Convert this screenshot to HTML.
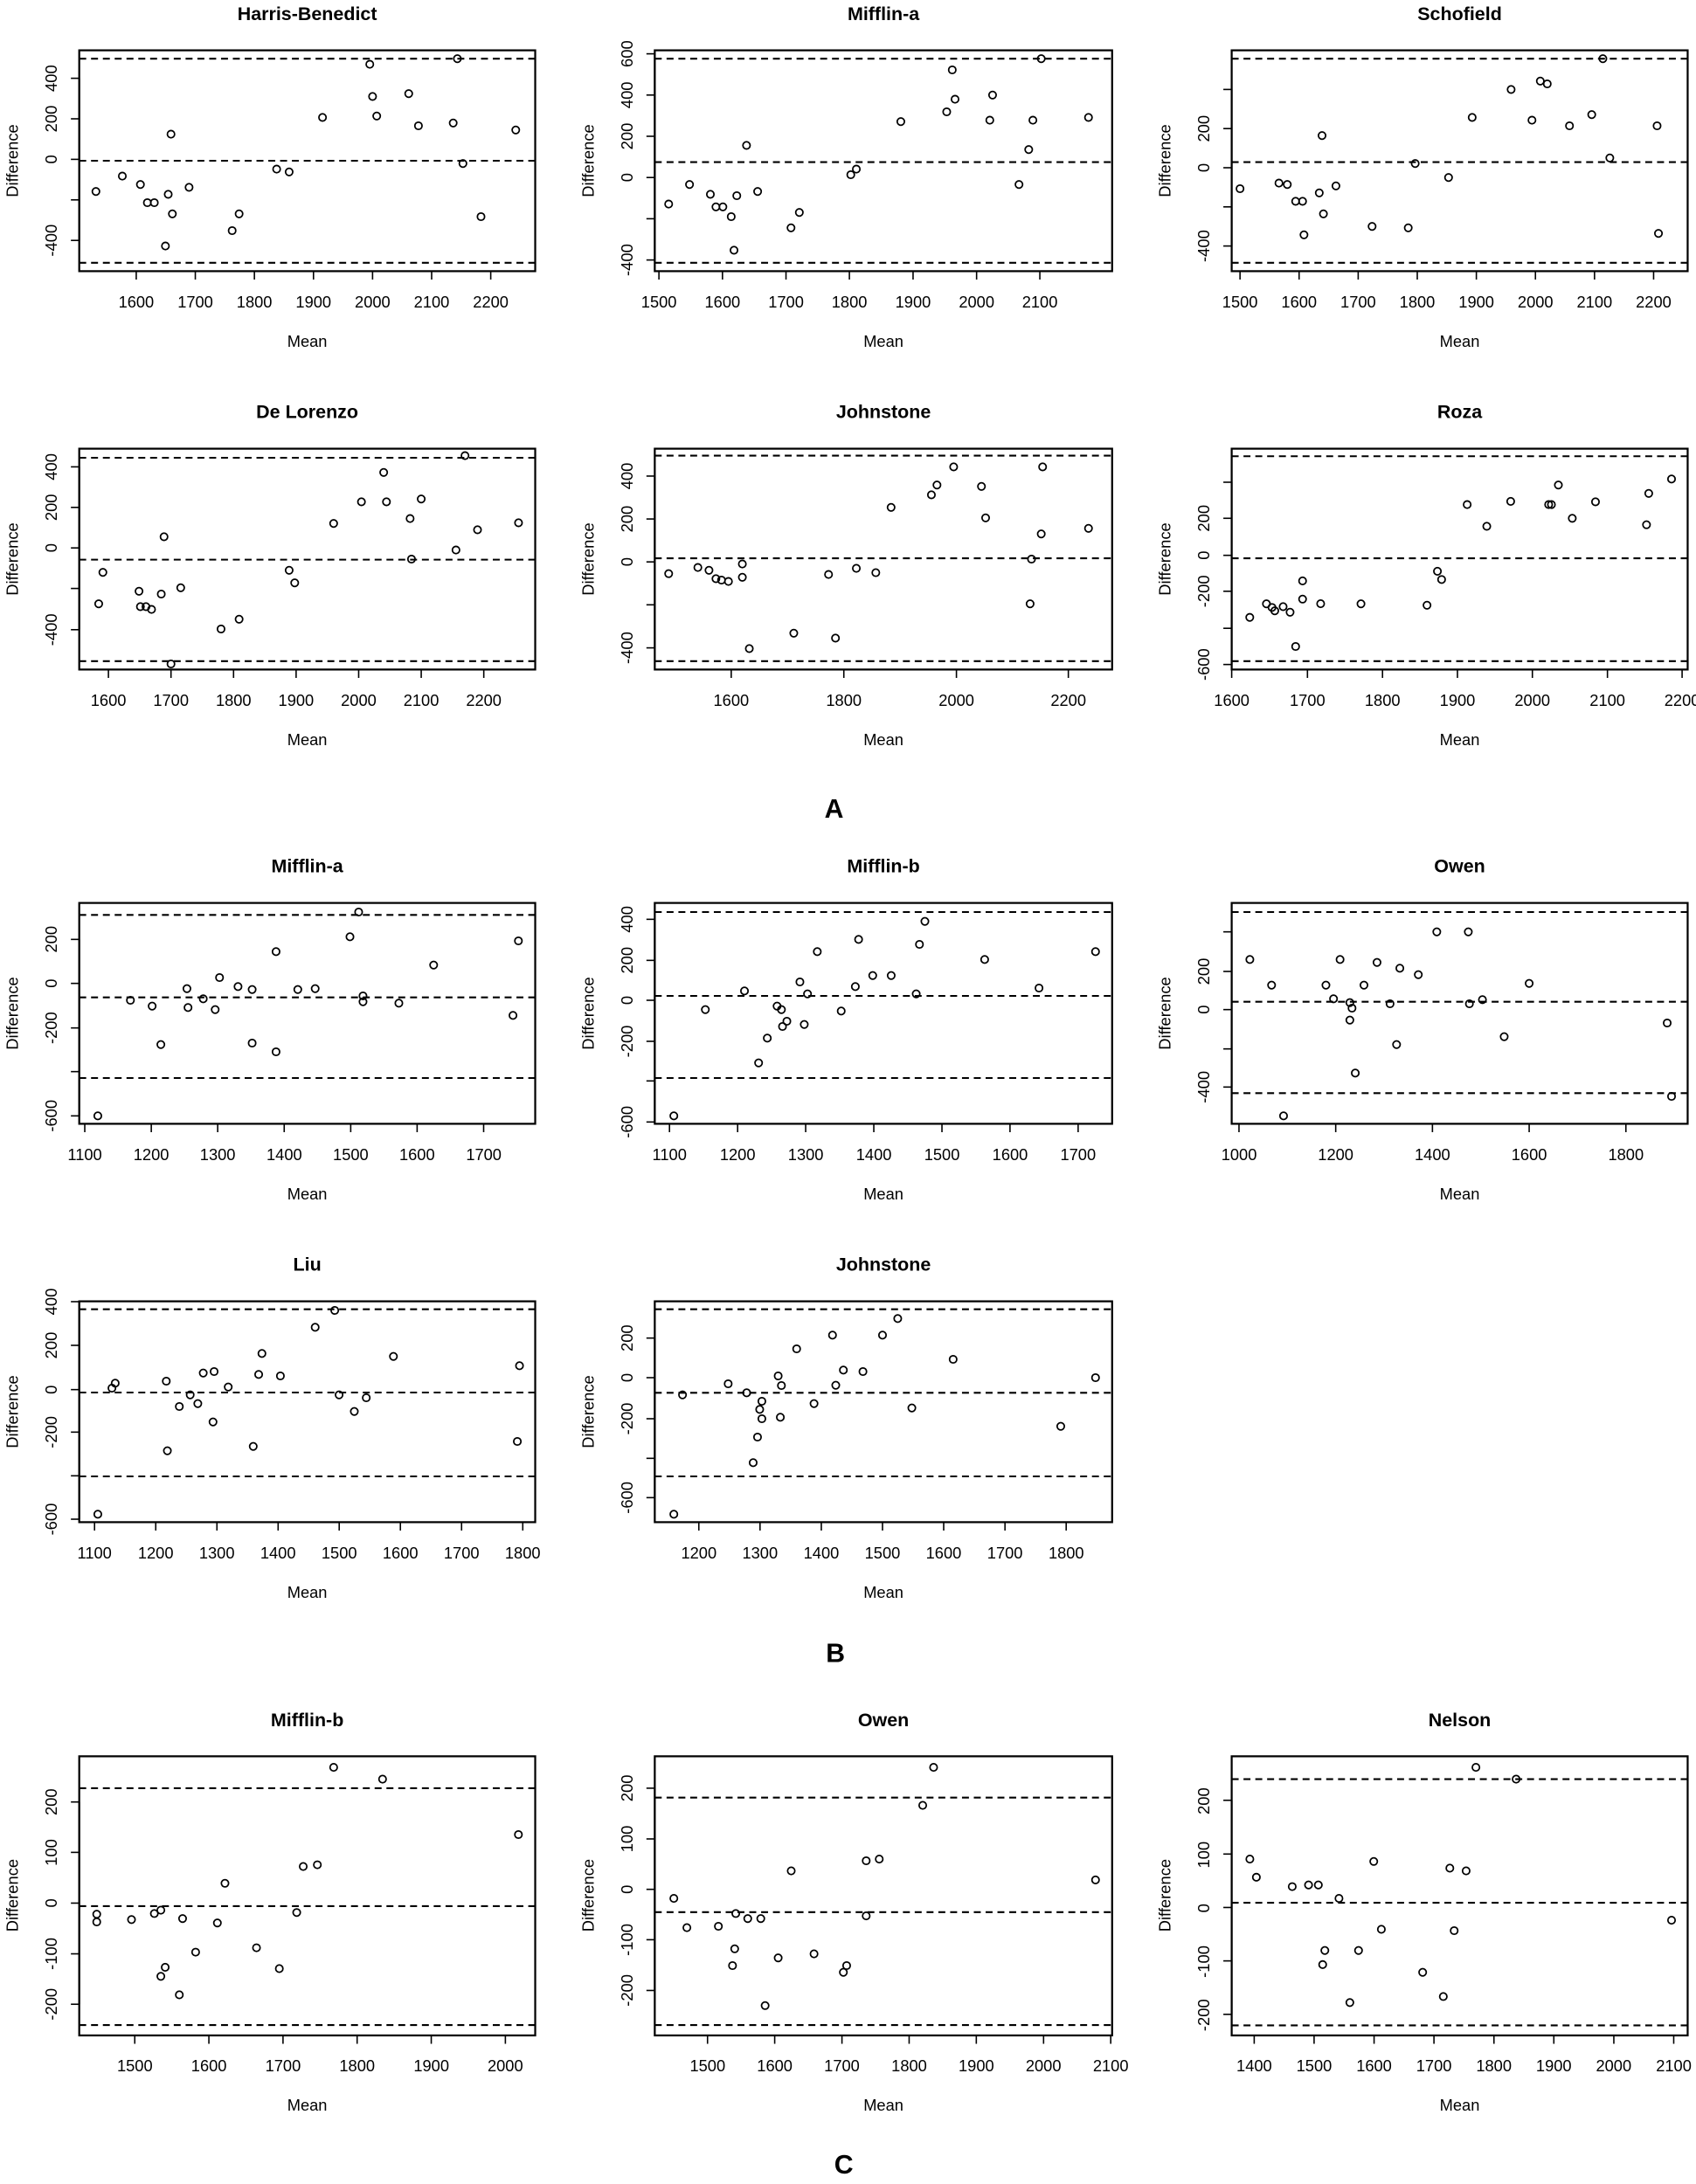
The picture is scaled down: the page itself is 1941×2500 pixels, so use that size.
<!DOCTYPE html>
<html><head><meta charset="utf-8"><style>
html,body{margin:0;padding:0;background:#fff}
svg{display:block}
text{font-family:"Liberation Sans",Arial,sans-serif;fill:#000}
.t{font-size:13.5px;font-weight:bold;text-anchor:middle}
.k{font-size:11.5px;text-anchor:middle}
.a{font-size:11.5px;text-anchor:middle}
.L{font-size:19px;font-weight:bold;text-anchor:middle}
</style></head><body>
<svg id="s" xmlns="http://www.w3.org/2000/svg" width="1941" height="2500" viewBox="0 0 1220 1562.5" preserveAspectRatio="none">
<g id="g"></g>
<!-- Row A1 -->
<text class="t" x="221" y="14.5">Harris-Benedict</text>
<text class="t" x="635.5" y="14.5">Mifflin-a</text>
<text class="t" x="1050" y="14.5">Schofield</text>
<text class="a" x="221" y="248">Mean</text><text class="a" x="635.5" y="248">Mean</text><text class="a" x="1050" y="248">Mean</text>
<text class="a" transform="translate(13,115) rotate(-90)">Difference</text>
<text class="a" transform="translate(427,115) rotate(-90)">Difference</text>
<text class="a" transform="translate(842,115) rotate(-90)">Difference</text>
<g class="k">
<text x="98" y="220">1600</text><text x="140.5" y="220">1700</text><text x="183" y="220">1800</text><text x="225.5" y="220">1900</text><text x="268" y="220">2000</text><text x="310.5" y="220">2100</text><text x="353" y="220">2200</text>
<text transform="translate(41,56) rotate(-90)">400</text><text transform="translate(41,85) rotate(-90)">200</text><text transform="translate(41,114) rotate(-90)">0</text><text transform="translate(41,172) rotate(-90)">-400</text>
<text x="474" y="220">1500</text><text x="519.7" y="220">1600</text><text x="565.4" y="220">1700</text><text x="611" y="220">1800</text><text x="656.8" y="220">1900</text><text x="702.5" y="220">2000</text><text x="748" y="220">2100</text>
<text transform="translate(455,38.5) rotate(-90)">600</text><text transform="translate(455,68) rotate(-90)">400</text><text transform="translate(455,97.5) rotate(-90)">200</text><text transform="translate(455,127) rotate(-90)">0</text><text transform="translate(455,186) rotate(-90)">-400</text>
<text x="892" y="220">1500</text><text x="934.5" y="220">1600</text><text x="977" y="220">1700</text><text x="1019.5" y="220">1800</text><text x="1062" y="220">1900</text><text x="1104.5" y="220">2000</text><text x="1147" y="220">2100</text><text x="1189.5" y="220">2200</text>
<text transform="translate(870,92) rotate(-90)">200</text><text transform="translate(870,120) rotate(-90)">0</text><text transform="translate(870,176) rotate(-90)">-400</text>
</g>
<!-- Row A2 -->
<text class="t" x="221" y="299">De Lorenzo</text>
<text class="t" x="635.5" y="299">Johnstone</text>
<text class="t" x="1050" y="299">Roza</text>
<text class="a" x="221" y="533">Mean</text><text class="a" x="635.5" y="533">Mean</text><text class="a" x="1050" y="533">Mean</text>
<text class="a" transform="translate(13,400) rotate(-90)">Difference</text>
<text class="a" transform="translate(427,400) rotate(-90)">Difference</text>
<text class="a" transform="translate(842,400) rotate(-90)">Difference</text>
<g class="k">
<text x="78" y="505">1600</text><text x="123" y="505">1700</text><text x="168" y="505">1800</text><text x="213" y="505">1900</text><text x="258" y="505">2000</text><text x="303" y="505">2100</text><text x="348" y="505">2200</text>
<text transform="translate(41,334) rotate(-90)">400</text><text transform="translate(41,363) rotate(-90)">200</text><text transform="translate(41,392) rotate(-90)">0</text><text transform="translate(41,450.5) rotate(-90)">-400</text>
<text x="526" y="505">1600</text><text x="607" y="505">1800</text><text x="688" y="505">2000</text><text x="768.5" y="505">2200</text>
<text transform="translate(455,340.6) rotate(-90)">400</text><text transform="translate(455,371.3) rotate(-90)">200</text><text transform="translate(455,402) rotate(-90)">0</text><text transform="translate(455,463.5) rotate(-90)">-400</text>
<text x="886" y="505">1600</text><text x="940.5" y="505">1700</text><text x="994.5" y="505">1800</text><text x="1048.4" y="505">1900</text><text x="1102.3" y="505">2000</text><text x="1156.3" y="505">2100</text><text x="1210" y="505">2200</text>
<text transform="translate(870,370.8) rotate(-90)">200</text><text transform="translate(870,397.3) rotate(-90)">0</text><text transform="translate(870,423) rotate(-90)">-200</text><text transform="translate(870,475.4) rotate(-90)">-600</text>
</g>
<text class="L" x="600" y="585">A</text>
<!-- Row B1 -->
<text class="t" x="221" y="624">Mifflin-a</text>
<text class="t" x="635.5" y="624">Mifflin-b</text>
<text class="t" x="1050" y="624">Owen</text>
<text class="a" x="221" y="858">Mean</text><text class="a" x="635.5" y="858">Mean</text><text class="a" x="1050" y="858">Mean</text>
<text class="a" transform="translate(13,725) rotate(-90)">Difference</text>
<text class="a" transform="translate(427,725) rotate(-90)">Difference</text>
<text class="a" transform="translate(842,725) rotate(-90)">Difference</text>
<g class="k">
<text x="61" y="830">1100</text><text x="108.8" y="830">1200</text><text x="156.6" y="830">1300</text><text x="204.5" y="830">1400</text><text x="252.3" y="830">1500</text><text x="300" y="830">1600</text><text x="348" y="830">1700</text>
<text transform="translate(41,672) rotate(-90)">200</text><text transform="translate(41,703.5) rotate(-90)">0</text><text transform="translate(41,735.4) rotate(-90)">-200</text><text transform="translate(41,798.3) rotate(-90)">-600</text>
<text x="481.6" y="830">1100</text><text x="530.6" y="830">1200</text><text x="579.6" y="830">1300</text><text x="628.6" y="830">1400</text><text x="677.6" y="830">1500</text><text x="726.6" y="830">1600</text><text x="775.5" y="830">1700</text>
<text transform="translate(455,657.7) rotate(-90)">400</text><text transform="translate(455,687) rotate(-90)">200</text><text transform="translate(455,715.6) rotate(-90)">0</text><text transform="translate(455,745) rotate(-90)">-200</text><text transform="translate(455,802.7) rotate(-90)">-600</text>
<text x="891.3" y="830">1000</text><text x="960.8" y="830">1200</text><text x="1030.4" y="830">1400</text><text x="1100" y="830">1600</text><text x="1169.6" y="830">1800</text>
<text transform="translate(870,695) rotate(-90)">200</text><text transform="translate(870,722.3) rotate(-90)">0</text><text transform="translate(870,777.7) rotate(-90)">-400</text>
</g>
<!-- Row B2 -->
<text class="t" x="221" y="909">Liu</text>
<text class="t" x="635.5" y="909">Johnstone</text>
<text class="a" x="221" y="1143">Mean</text><text class="a" x="635.5" y="1143">Mean</text>
<text class="a" transform="translate(13,1010) rotate(-90)">Difference</text>
<text class="a" transform="translate(427,1010) rotate(-90)">Difference</text>
<g class="k">
<text x="68" y="1115">1100</text><text x="112" y="1115">1200</text><text x="156" y="1115">1300</text><text x="200" y="1115">1400</text><text x="244" y="1115">1500</text><text x="288" y="1115">1600</text><text x="332" y="1115">1700</text><text x="376" y="1115">1800</text>
<text transform="translate(41,931.25) rotate(-90)">400</text><text transform="translate(41,962.5) rotate(-90)">200</text><text transform="translate(41,994.2) rotate(-90)">0</text><text transform="translate(41,1024.6) rotate(-90)">-200</text><text transform="translate(41,1086.9) rotate(-90)">-600</text>
<text x="502.7" y="1115">1200</text><text x="546.7" y="1115">1300</text><text x="590.8" y="1115">1400</text><text x="634.8" y="1115">1500</text><text x="678.8" y="1115">1600</text><text x="722.9" y="1115">1700</text><text x="767" y="1115">1800</text>
<text transform="translate(455,957.3) rotate(-90)">200</text><text transform="translate(455,985.6) rotate(-90)">0</text><text transform="translate(455,1015) rotate(-90)">-200</text><text transform="translate(455,1071.5) rotate(-90)">-600</text>
</g>
<text class="L" x="601" y="1189">B</text>
<!-- Row C -->
<text class="t" x="221" y="1235">Mifflin-b</text>
<text class="t" x="635.5" y="1235">Owen</text>
<text class="t" x="1050" y="1235">Nelson</text>
<text class="a" x="221" y="1510">Mean</text><text class="a" x="635.5" y="1510">Mean</text><text class="a" x="1050" y="1510">Mean</text>
<text class="a" transform="translate(13,1356) rotate(-90)">Difference</text>
<text class="a" transform="translate(427,1356) rotate(-90)">Difference</text>
<text class="a" transform="translate(842,1356) rotate(-90)">Difference</text>
<g class="k">
<text x="97" y="1482">1500</text><text x="150.3" y="1482">1600</text><text x="203.6" y="1482">1700</text><text x="256.9" y="1482">1800</text><text x="310.3" y="1482">1900</text><text x="363.5" y="1482">2000</text>
<text transform="translate(41,1289.2) rotate(-90)">200</text><text transform="translate(41,1325.3) rotate(-90)">100</text><text transform="translate(41,1361.5) rotate(-90)">0</text><text transform="translate(41,1397.8) rotate(-90)">-100</text><text transform="translate(41,1433.9) rotate(-90)">-200</text>
<text x="509" y="1482">1500</text><text x="557.3" y="1482">1600</text><text x="605.6" y="1482">1700</text><text x="654" y="1482">1800</text><text x="702.3" y="1482">1900</text><text x="750.6" y="1482">2000</text><text x="799" y="1482">2100</text>
<text transform="translate(455,1279.3) rotate(-90)">200</text><text transform="translate(455,1315.6) rotate(-90)">100</text><text transform="translate(455,1351.7) rotate(-90)">0</text><text transform="translate(455,1387.8) rotate(-90)">-100</text><text transform="translate(455,1424) rotate(-90)">-200</text>
<text x="902.2" y="1482">1400</text><text x="945.3" y="1482">1500</text><text x="988.4" y="1482">1600</text><text x="1031.5" y="1482">1700</text><text x="1074.6" y="1482">1800</text><text x="1117.7" y="1482">1900</text><text x="1160.8" y="1482">2000</text><text x="1204" y="1482">2100</text>
<text transform="translate(870,1288.5) rotate(-90)">200</text><text transform="translate(870,1327) rotate(-90)">100</text><text transform="translate(870,1365.2) rotate(-90)">0</text><text transform="translate(870,1403.4) rotate(-90)">-100</text><text transform="translate(870,1441.7) rotate(-90)">-200</text>
</g>
<text class="L" x="607" y="1555">C</text>
</svg>
<script>
var NS="http://www.w3.org/2000/svg",G=document.getElementById("g");
function el(n,a){var e=document.createElementNS(NS,n);for(var k in a)e.setAttribute(k,a[k]);G.appendChild(e);return e;}
function ln(x1,y1,x2,y2,w,d){var a={x1:x1,y1:y1,x2:x2,y2:y2,stroke:"#000","stroke-width":w||1};if(d)a["stroke-dasharray"]=d;el("line",a);}
var I=function(v){return v;};
function zx(x){return x*0.7818;}
function P(l,t,r,b,xt,yt,hl,pts,fx,fy){
  fx=fx||I;fy=fy||I;
  el("rect",{x:l,y:t,width:r-l,height:b-t,fill:"none",stroke:"#000","stroke-width":1.4});
  xt=xt.map(fx);yt=yt.map(fy);
  ln(xt[0],b,xt[xt.length-1],b,1.2);
  xt.forEach(function(x){ln(x,b,x,b+6,1);});
  ln(l,yt[0],l,yt[yt.length-1],1.2);
  yt.forEach(function(y){ln(l-6,y,l,y,1);});
  hl.forEach(function(y){ln(l,fy(y),r,fy(y),1.3,"5,3.5");});
  pts.forEach(function(p){el("circle",{cx:fx(p[0]),cy:fy(p[1]),r:2.6,fill:"none",stroke:"#000","stroke-width":1.1});});
}
// Row A1 (display coords)
P(57,36,385,194,[98,140.5,183,225.5,268,310.5,353],[56,85,114,143,172],[42,115,188],
[[69,137],[88,126],[101,132],[106,145],[111,145],[121,139],[123,96],[124,153],[119,176],[136,134],[167,165],[172,153],[199,121],[208,123],[232,84],[266,46],[268,69],[271,83],[294,67],[301,90],[326,88],[329,42],[333,117],[346,155],[371,93]]);
P(471,36,800,194,[474,519.7,565.4,611,656.8,702.5,748],[38.5,68,97.5,127,156.5,186],[42,116,188],
[[481,146],[496,132],[511,139],[515,148],[520,148],[526,155],[528,179],[530,140],[537,104],[545,137],[569,163],[575,152],[612,125],[616,121],[648,87],[681,80],[685,50],[687,71],[712,86],[714,68],[733,132],[740,107],[743,86],[749,42],[783,84]]);
P(886,36,1214,194,[892,934.5,977,1019.5,1062,1104.5,1147,1189.5],[64,92,120,148,176],[42,116,188],
[[892,135],[920,131],[926,132],[932,144],[937,144],[938,168],[949,138],[951,97],[952,153],[961,133],[987,162],[1013,163],[1018,117],[1042,127],[1059,84],[1087,64],[1102,86],[1108,58],[1113,60],[1129,90],[1145,82],[1153,42],[1158,113],[1192,90],[1193,167]]);
// Row A2
P(57,321,385,479,[78,123,168,213,258,303,348],[334,363,392,421,450.5],[327.5,400.4,473],
[[71,432],[74,409.5],[100,423],[101,434],[105,434],[109,436],[116,425],[118,384],[123,475],[130,420.5],[159,450],[172,443],[208,408],[212,417],[240,374.5],[260,359],[276,338],[278,359],[295,371],[296,400],[303,357],[328,393.5],[334.5,326],[343.5,379],[373,374]]);
P(471,321,800,479,[526,607,688,768.5],[340.6,371.3,402,432.7,463.5],[326,399.4,473],
[[481,410.4],[502,406],[510,408],[515,414],[519,415],[524,416],[534,403.5],[534,413],[539,464],[571,453],[596,411],[601,456.5],[616,406.6],[630,409.7],[641,363],[670,354],[674,347],[686,334],[706,348],[709,370.5],[741,432],[742,400],[749,382],[750,334],[783,378]]);
P(886,321,1214,479,[886,940.5,994.5,1048.4,1102.3,1156.3,1210],[345,370.8,397.3,423,449.5,475.4],[326.4,399.4,473],
[[899,441.7],[911,432],[915,434.6],[917,437],[923,434],[928,438],[937,415.6],[937,428.6],[932,462.5],[950,431.9],[979,432],[1026.5,433],[1034,408.7],[1037,414.6],[1055.4,361],[1069.5,376.5],[1086.7,358.7],[1114,361],[1116,361],[1121,347],[1131,370.8],[1147.7,359],[1184.4,375.4],[1186,353],[1202.4,342.7]]);
// Row B1 (zoom coords)
var fB1=function(y){return (y/3+950)/1.6;};
P(57,646,385,804,[78,139.2,200.3,261.5,322.7,383.8,445],[376,527,680,830,982],[292,575,852],
[[90,982],[120,585],[140,605],[148,737],[172,545],[173,610],[187,580],[198,617],[202,507],[219,538],[232,548],[232,732],[254,418],[254,762],[274,548],[290,545],[322,367],[330,282],[334,570],[334,590],[367,595],[399,464],[472,637],[477,381]],zx,fB1);
P(471,646,800,804,[616,678.7,741.3,804,866.7,929.3,992],[307,448,585,726,862,1003],[282,570,852],
[[620,982],[649,617],[685,553],[698,800],[706,715],[715,605],[719,617],[720,675],[724,657],[736,522],[740,668],[743,563],[752,418],[774,622],[787,538],[790,376],[803,500],[820,500],[843,563],[846,393],[851,314],[906,445],[956,543],[1008,418]],zx,fB1);
P(886,646,1214,804,[1140,1229,1318,1407,1496],[350,486,617,752,883],[282,590,904],
[[1150,445],[1170,533],[1181,982],[1220,533],[1227,580],[1233,445],[1242,593],[1244,612],[1242,653],[1247,835],[1255,533],[1267,455],[1279,597],[1285,737],[1288,475],[1305,497],[1322,350],[1351,350],[1352,597],[1364,583],[1384,710],[1407,527],[1534,663],[1538,915]],zx,fB1);
// Row B2
var fB2=function(y){return (y/3+1400)/1.6;};
P(57,931,385,1089,[87,143.3,199.6,255.9,312.1,368.4,424.7,481],[270,420,572,718,868,1017],[296,582,870],
[[90,1000],[103,567],[106,550],[153,543],[154,782],[165,630],[175,590],[182,620],[187,515],[196,683],[197,510],[210,563],[233,767],[238,520],[241,448],[258,525],[290,358],[308,300],[312,590],[326,647],[337,600],[362,458],[476,750],[478,490]],zx,fB2);
P(471,931,800,1089,[643,699.3,755.7,812,868.3,924.7,981],[395,531,672,808,943],[296,583,870],
[[620,1000],[628,590],[670,552],[687,583],[693,823],[697,735],[699,640],[701,612],[701,672],[716,525],[718,667],[719,558],[733,432],[749,620],[766,385],[769,557],[776,505],[794,510],[812,385],[826,328],[839,635],[877,468],[976,698],[1008,531]],zx,fB2);
// Row C
var fC=function(y){return (y/2.6+1900)/1.6;};
P(57,1256.5,385,1456.2,[124,192.2,260.4,328.6,396.8,465],[423,573,724,875,1025],[382,733,1087],
[[89,757],[89,780],[121,773],[142,755],[148,745],[148,942],[152,915],[165,997],[168,770],[180,870],[200,783],[207,665],[236,857],[257,919],[273,752],[279,615],[292,610],[307,320],[352,355],[477,520]],zx,fC);
P(471,1256.5,800,1456.2,[651,712.8,774.7,836.5,898.3,960.2,1022],[382,533,683,833,984],[410,751,1087],
[[620,710],[632,797],[661,793],[674,910],[676,860],[677,755],[688,770],[700,770],[704,1029],[716,887],[728,628],[749,875],[776,930],[779,910],[797,598],[797,762],[809,593],[849,433],[859,320],[1008,655]],zx,fC);
P(886,1256.5,1214,1456.2,[1154,1209.1,1264.3,1319.4,1374.6,1429.7,1484.9,1540],[418,578,737,896,1055],[355,723,1088],
[[1150,593],[1156,647],[1189,675],[1204,670],[1213,670],[1219,865],[1217,907],[1232,710],[1242,1020],[1250,865],[1264,600],[1271,802],[1309,930],[1328,1002],[1334,620],[1338,806],[1349,628],[1358,320],[1395,355],[1538,775]],zx,fC);
</script>
</body></html>
